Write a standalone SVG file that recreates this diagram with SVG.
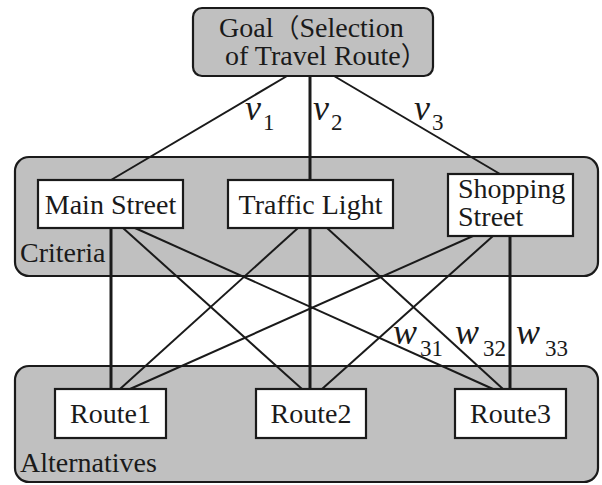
<svg xmlns="http://www.w3.org/2000/svg" width="602" height="485" viewBox="0 0 602 485">
<style>
  .t { font-family: 'Liberation Serif', 'DejaVu Serif', serif; font-size: 28px; fill: #1a1a1a; }
  .cjk { font-family: 'Noto Sans CJK SC', sans-serif; font-size: 26px; }
  .m { text-anchor: middle; }
  .it { font-family: 'Liberation Serif', 'DejaVu Serif', serif; font-style: italic; font-size: 36px; fill: #1a1a1a; }
  .sub { font-family: 'Liberation Serif', 'DejaVu Serif', serif; font-size: 23px; fill: #1a1a1a; }
  .layer { fill: #c0c0c0; stroke: #1a1a1a; stroke-width: 2.2; }
  .box { fill: #ffffff; stroke: #1a1a1a; stroke-width: 2.2; }
  .goal { fill: #c0c0c0; stroke: #1a1a1a; stroke-width: 2.2; }
  .c { stroke: #1a1a1a; stroke-width: 2; fill: none; }
  .v { stroke: #1a1a1a; stroke-width: 3; fill: none; }
</style>
<g id="criteria-layer">
  <rect class="layer" x="15" y="157" width="583" height="119" rx="14"/>
  <text class="t" x="20" y="262">Criteria</text>
</g>
<g id="alternatives-layer">
  <rect class="layer" x="15" y="366" width="583" height="116" rx="14"/>
  <text class="t" x="20" y="472">Alternatives</text>
</g>
<g id="connectors">
  <line class="c" x1="287" y1="76" x2="111" y2="180"/>
  <line class="v" x1="310" y1="76" x2="310" y2="180"/>
  <line class="c" x1="334" y1="76" x2="500" y2="174"/>
  <line class="v" x1="111" y1="228" x2="111" y2="389"/>
  <line class="c" x1="123" y1="228" x2="302" y2="389"/>
  <line class="c" x1="135" y1="228" x2="493" y2="389"/>
  <line class="c" x1="298" y1="228" x2="120" y2="389"/>
  <line class="v" x1="310" y1="228" x2="310" y2="389"/>
  <line class="c" x1="327" y1="228" x2="503" y2="389"/>
  <line class="c" x1="473" y1="236" x2="130" y2="389"/>
  <line class="c" x1="493" y1="236" x2="322" y2="389"/>
  <line class="v" x1="510" y1="236" x2="510" y2="389"/>
</g>
<g id="goal">
  <rect class="goal" x="193" y="8" width="240" height="68" rx="9"/>
  <text class="t"><tspan x="219" y="37">Goal<tspan class="cjk">（</tspan>Selection</tspan><tspan x="225" y="65">of Travel Route<tspan class="cjk">）</tspan></tspan></text>
</g>
<g id="main-street">
  <rect class="box" x="38" y="180" width="145" height="48"/>
  <text class="t m" x="110.5" y="214">Main Street</text>
</g>
<g id="traffic-light">
  <rect class="box" x="228" y="180" width="165" height="48"/>
  <text class="t m" x="310.5" y="214">Traffic Light</text>
</g>
<g id="shopping-street">
  <rect class="box" x="448" y="174" width="125" height="62"/>
  <text class="t"><tspan x="458" y="198">Shopping</tspan><tspan x="458" y="226">Street</tspan></text>
</g>
<g id="route1">
  <rect class="box" x="55" y="389" width="111" height="49"/>
  <text class="t m" x="110.5" y="423">Route1</text>
</g>
<g id="route2">
  <rect class="box" x="256" y="389" width="110" height="49"/>
  <text class="t m" x="311" y="423">Route2</text>
</g>
<g id="route3">
  <rect class="box" x="455" y="389" width="111" height="49"/>
  <text class="t m" x="510.5" y="423">Route3</text>
</g>
<g id="weights">
  <text class="it" x="245" y="120">v</text><text class="sub" x="263" y="130">1</text>
  <text class="it" x="313" y="120">v</text><text class="sub" x="331" y="130">2</text>
  <text class="it" x="414" y="120">v</text><text class="sub" x="432" y="130">3</text>
  <text class="it" x="393" y="344">w</text><text class="sub" x="420" y="356">31</text>
  <text class="it" x="455" y="344">w</text><text class="sub" x="483" y="356">32</text>
  <text class="it" x="516" y="344">w</text><text class="sub" x="545" y="356">33</text>
</g>
</svg>
